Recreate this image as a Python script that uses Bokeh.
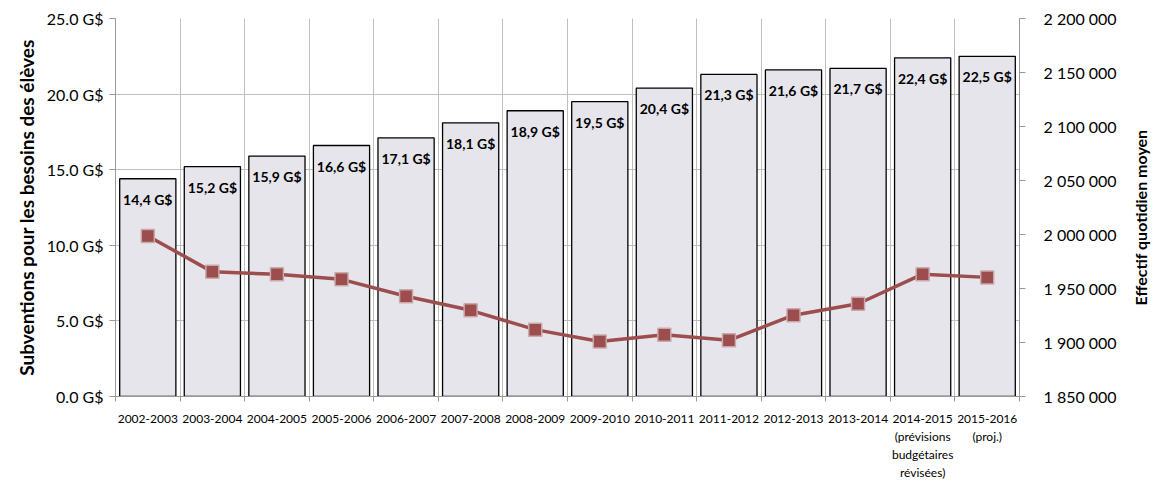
import math
from bokeh.plotting import figure
from bokeh.models import Range1d, LinearAxis, FixedTicker, ColumnDataSource, Label
from bokeh.core.properties import value
from bokeh.embed import file_html
from bokeh.resources import INLINE

years = ["2002-2003", "2003-2004", "2004-2005", "2005-2006", "2006-2007",
         "2007-2008", "2008-2009", "2009-2010", "2010-2011", "2011-2012",
         "2012-2013", "2013-2014", "2014-2015\n(prévisions\nbudgétaires\nrévisées)",
         "2015-2016\n(proj.)"]
subventions = [14.4, 15.2, 15.9, 16.6, 17.1, 18.1, 18.9, 19.5, 20.4, 21.3, 21.6, 21.7, 22.4, 22.5]
effectif = [1998700, 1965400, 1963100, 1958500, 1942800, 1929800, 1911900,
            1901000, 1907100, 1902000, 1925300, 1935900, 1963300, 1960300]
left_ticks = [0, 5, 10, 15, 20, 25]
right_ticks = [1850000, 1900000, 1950000, 2000000, 2050000, 2100000, 2150000, 2200000]

FONT = "Lato"
n = len(years)
centers = [i + 0.5 for i in range(n)]
bounds = list(range(n + 1))

src = ColumnDataSource(dict(
    x=centers, sub=subventions, eff=effectif,
    lab=[f"{v:.1f}".replace(".", ",") + " G$" for v in subventions],
))

p = figure(width=1159, height=482, output_backend="svg", toolbar_location=None,
           x_range=Range1d(0, n), y_range=Range1d(0, 25),
           min_border_left=115, min_border_right=140, min_border_top=18, min_border_bottom=78)
p.outline_line_color = None
p.background_fill_color = "white"
p.extra_y_ranges = {"eff": Range1d(1850000, 2200000)}

# grids
p.ygrid.ticker = FixedTicker(ticks=left_ticks)
p.ygrid.grid_line_color = "#bfbfbf"
p.ygrid.grid_line_width = 1
p.xgrid.ticker = FixedTicker(ticks=bounds)
p.xgrid.grid_line_color = "#bfbfbf"

# bars
p.vbar(x="x", top="sub", width=0.87, bottom=0, source=src,
       fill_color="#e6e5ec", line_color="black", line_width=1.3)
p.text(x="x", y="sub", text="lab", source=src, text_align="center", text_baseline="top",
       y_offset=12, text_font=value(FONT), text_font_style="bold", text_font_size="14px",
       text_color="black")

# line
p.line(x="x", y="eff", source=src, y_range_name="eff", line_color="#9c4d4d", line_width=3.5)
p.scatter(x="x", y="eff", source=src, y_range_name="eff", marker="square", size=13,
          fill_color="#9c4d4d", line_color="#c9a9a9", line_width=1.5)

# x axis
xa = p.xaxis[0]
xa.ticker = FixedTicker(ticks=centers, minor_ticks=bounds)
xa.major_label_overrides = {c: y for c, y in zip(centers, years)}
xa.major_tick_line_color = None
xa.minor_tick_line_color = "#999999"
xa.minor_tick_out = 5
xa.minor_tick_in = 0
xa.axis_line_color = "#999999"
xa.major_label_text_font = FONT
xa.major_label_text_font_size = "12px"
xa.major_label_text_color = "black"
xa.major_label_standoff = 8

# left y axis
ya = p.yaxis[0]
ya.ticker = FixedTicker(ticks=left_ticks)
ya.major_label_overrides = {t: f"{t:.1f} G$" for t in left_ticks}
ya.axis_label = "Subventions pour les besoins des élèves"
ya.axis_label_text_font = FONT
ya.axis_label_text_font_style = "bold"
ya.axis_label_text_font_size = "19px"
ya.axis_label_text_color = "black"
ya.axis_label_standoff = 6
ya.major_label_text_font = FONT
ya.major_label_text_font_size = "16px"
ya.major_label_text_color = "black"
ya.major_label_standoff = 6
ya.axis_line_color = "#999999"
ya.major_tick_line_color = "#999999"
ya.major_tick_out = 6
ya.major_tick_in = 0
ya.minor_tick_line_color = None

# right y axis (ticks and labels)
ra = LinearAxis(y_range_name="eff")
ra.ticker = FixedTicker(ticks=right_ticks)
ra.major_label_overrides = {t: f"{t:,}".replace(",", " ") for t in right_ticks}
ra.major_label_text_font = FONT
ra.major_label_text_font_size = "16px"
ra.major_label_text_color = "black"
ra.axis_line_color = "#999999"
ra.major_tick_line_color = "#999999"
ra.major_tick_out = 6
ra.major_tick_in = 0
ra.minor_tick_line_color = None
ra.major_label_standoff = 18
p.add_layout(ra, "right")

# right axis title, reading bottom-to-top, in its own side panel
rt = Label(x=21, y=179, x_units="screen", y_units="screen",
           text="Effectif quotidien moyen", angle=math.pi / 2,
           text_align="center", text_baseline="middle", text_font=FONT,
           text_font_style="bold", text_font_size="16px", text_color="black")
p.add_layout(rt, "right")

open("out.html", "w").write(file_html(p, INLINE))
